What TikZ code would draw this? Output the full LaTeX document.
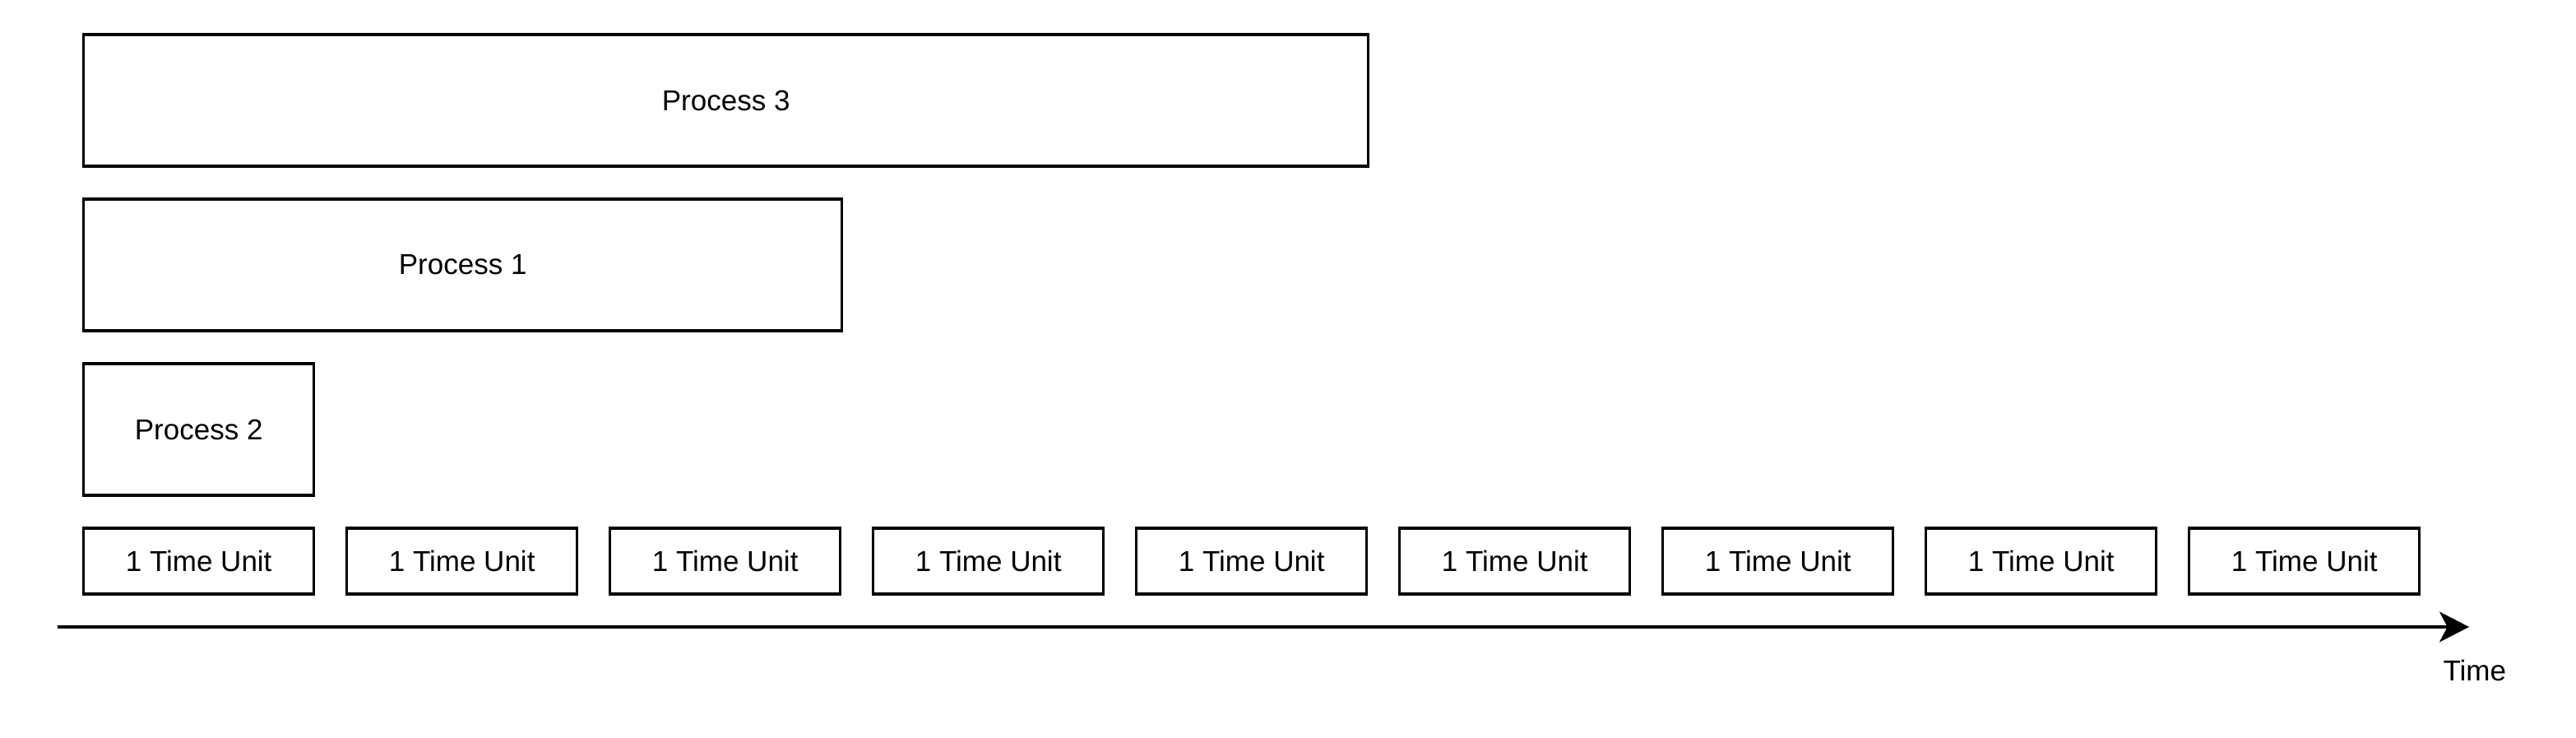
\documentclass[tikz,border=0pt]{standalone}
\usepackage{fontspec}
\setmainfont{Liberation Sans}
\usepackage{tikz}
\usetikzlibrary{arrows.meta, positioning}

\tikzset{
    procbox/.style={draw, line width=1.2pt, inner sep=0pt, anchor=west, minimum height=2cm},
    unitbox/.style={draw, line width=1.2pt, inner sep=0pt, anchor=west, minimum width=3.5cm, minimum height=1cm}
}

\begin{document}
\begin{tikzpicture}[font=\fontsize{12.45}{15}\selectfont]
    % Fix the page size
    \useasboundingbox (0,0) rectangle (39.15,11.2);

    % Draw the processes
    \node[procbox, minimum width=19.525cm] (proc3) at (1.25,9.675) {Process 3};
    \node[procbox, minimum width=11.525cm] (proc1) at (1.25,7.175) {Process 1};
    \node[procbox, minimum width=3.5cm] (proc2) at (1.25,4.675) {Process 2};

    % Draw the time units
    \foreach \i in {0,...,8} {
        \node[unitbox] (unit\i) at ({1.25+4*\i},2.675) {1 Time Unit};
    }

    % Draw the time axis
    \coordinate (axisstart) at (0.875,1.675);
    \coordinate (axisend) at (37.525,1.675);
    \draw[line width=1.2pt, -{Stealth[length=0.45cm, width=0.46cm, inset=0.12cm]}] (axisstart) -- (axisend);
    \node (timelabel) at (37.61,1.01) {Time};
\end{tikzpicture}
\end{document}
